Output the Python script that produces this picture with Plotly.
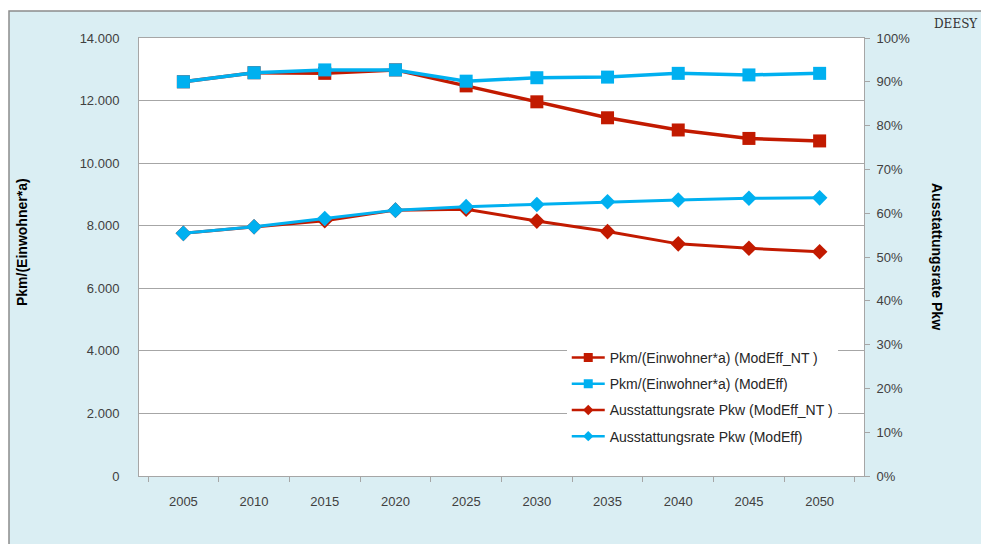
import plotly.graph_objs as go

# Werte
jahre = ['2005', '2010', '2015', '2020', '2025', '2030', '2035', '2040', '2045', '2050']

pkm_nt = [12600, 12890, 12870, 12980, 12470, 11960, 11450, 11060, 10790, 10710]
pkm_modeff = [12600, 12890, 12980, 12980, 12620, 12730, 12750, 12870, 12820, 12870]

rate_nt = [0.554, 0.569, 0.583, 0.607, 0.609, 0.582, 0.558, 0.530, 0.520, 0.512]
rate_modeff = [0.554, 0.569, 0.588, 0.607, 0.615, 0.620, 0.626, 0.630, 0.634, 0.635]

namen = [
    'Pkm/(Einwohner*a) (ModEff_NT )',
    'Pkm/(Einwohner*a) (ModEff)',
    'Ausstattungsrate Pkw (ModEff_NT )',
    'Ausstattungsrate Pkw (ModEff)',
]

rot = '#C21A00'
blau = '#00B0F0'
grau = '#A6A6A6'
schrift = 'Liberation Sans, Arial, sans-serif'

reihen = [
    (pkm_nt, namen[0], rot, 'square', 'y'),
    (pkm_modeff, namen[1], blau, 'square', 'y'),
    (rate_nt, namen[2], rot, 'diamond', 'y2'),
    (rate_modeff, namen[3], blau, 'diamond', 'y2'),
]

data = []
for i, (werte, name, farbe, symbol, achse) in enumerate(reihen):
    gross = symbol == 'square'
    data.append(go.Scatter(
        x=jahre, y=werte, name=name, yaxis=achse, showlegend=False,
        mode='lines+markers', line=dict(color=farbe, width=3.5 if gross else 3),
        marker=dict(symbol=symbol, size=13 if gross else 12, color=farbe)))
# kleinere Symbole nur fuer die Legende
for i, (werte, name, farbe, symbol, achse) in enumerate(reihen):
    gross = symbol == 'square'
    data.append(go.Scatter(
        x=[None], y=[None], name=name, legendgroup='g%d' % i,
        mode='lines+markers', line=dict(color=farbe, width=2.5),
        marker=dict(symbol=symbol, size=9 if gross else 8, color=farbe)))

layout = go.Layout(
    width=981, height=544,
    margin=dict(l=139, r=117, t=38, b=68),
    paper_bgcolor='white',
    plot_bgcolor='rgba(0,0,0,0)',
    separators=',.',
    font=dict(family=schrift, size=13, color='#404040'),
    showlegend=True,
    legend=dict(x=0.59, y=0.306, xanchor='left', yanchor='top',
                bgcolor='white', font=dict(size=14, color='#262626'),
                tracegroupgap=5, itemwidth=33),
    xaxis=dict(type='category', showline=True, mirror=True, linecolor=grau,
               ticks='outside', ticklen=5, tickcolor=grau, tickson='boundaries',
               showgrid=False, ticklabelstandoff=13),
    yaxis=dict(range=[0, 14000], dtick=2000, tickformat=',d',
               showline=True, mirror=True, linecolor=grau,
               gridcolor=grau, gridwidth=1, zeroline=False,
               ticks='', ticklabelstandoff=16),
    yaxis2=dict(range=[0, 1], dtick=0.1, tickformat='.0%', overlaying='y',
                side='right', showgrid=False, zeroline=False, showline=False,
                ticks='outside', ticklen=5, tickcolor=grau, ticklabelstandoff=4),
    shapes=[
        dict(type='rect', xref='paper', yref='paper', layer='below',
             x0=(9 - 139) / 725, x1=(1000 - 139) / 725,
             y0=(476 - 560) / 438, y1=(476 - 11) / 438,
             fillcolor='#DAEEF3', line=dict(color='#8C8C8C', width=1.5)),
        dict(type='rect', xref='paper', yref='paper', layer='below',
             x0=0, x1=1, y0=0, y1=1, fillcolor='white', line=dict(width=0)),
    ],
    annotations=[
        dict(text='<b>Pkm/(Einwohner*a)</b>', xref='paper', yref='paper',
             x=(22 - 139) / 725, y=(476 - 242) / 438, xanchor='center',
             yanchor='middle', textangle=-90, showarrow=False,
             font=dict(size=14, color='black')),
        dict(text='<b>Ausstattungsrate Pkw</b>', xref='paper', yref='paper',
             x=(937 - 139) / 725, y=(476 - 257) / 438, xanchor='center',
             yanchor='middle', textangle=90, showarrow=False,
             font=dict(size=14, color='black')),
        dict(text='DEESY', xref='paper', yref='paper',
             x=(932 - 139) / 725, y=(476 - 24) / 438, xanchor='left',
             yanchor='middle', showarrow=False,
             font=dict(family='DejaVu Serif, serif', size=12, color='#333333')),
    ],
)

fig = go.Figure(data=data, layout=layout)
fig.write_html('out.html', config={'displayModeBar': False},
               post_script="document.body.style.margin='0px';")
